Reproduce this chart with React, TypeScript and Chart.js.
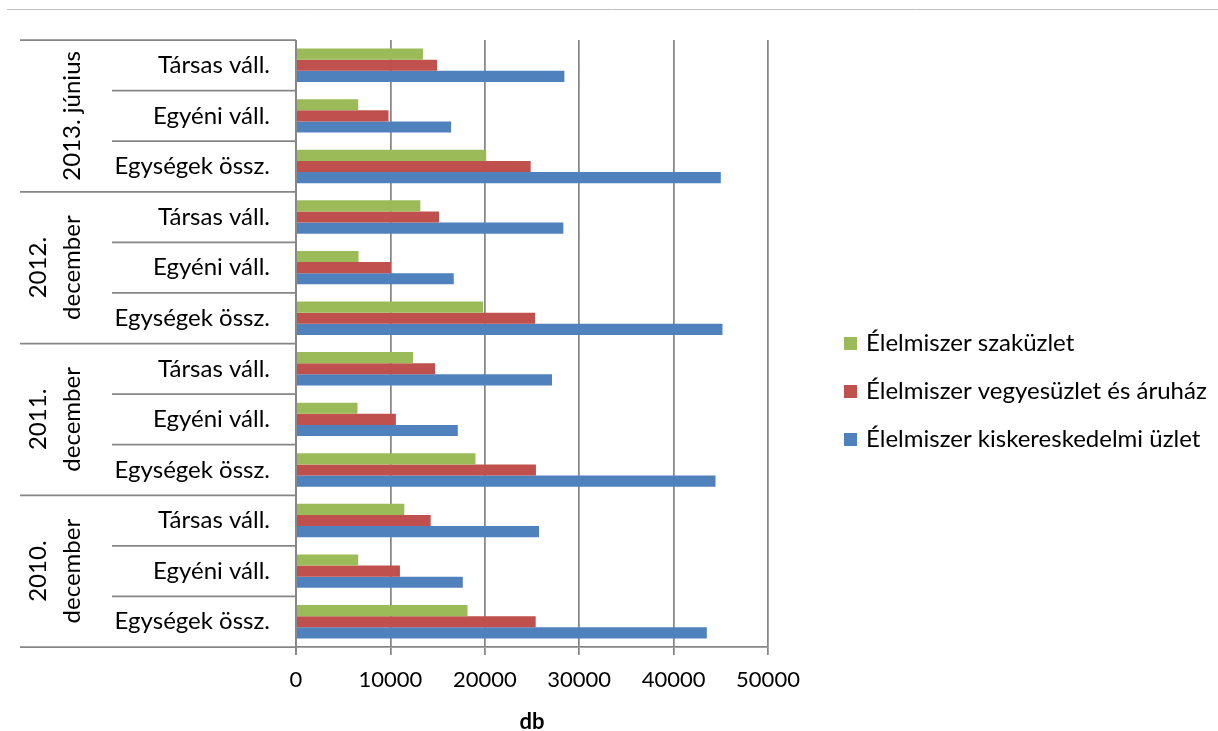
import React, { useEffect, useRef } from 'react';
import { Chart, registerables } from 'chart.js';

Chart.register(...registerables);

// Periods, listed from the top of the chart downwards (wrapped lines of each label)
const periodLabels: string[][] = [
  ['2013. június'],
  ['2012.', 'december'],
  ['2011.', 'december'],
  ['2010.', 'december'],
];
const unitLabels = ['Társas váll.', 'Egyéni váll.', 'Egységek össz.'];

const seriesNames = [
  'Élelmiszer szaküzlet',
  'Élelmiszer vegyesüzlet és áruház',
  'Élelmiszer kiskereskedelmi üzlet',
];
const seriesColors = ['#9BBB59', '#C0504D', '#4F81BD'];

// Values per category, top to bottom: each period -> Társas, Egyéni, Egységek
const szakuzlet = [13450, 6590, 20150, 13170, 6620, 19830, 12390, 6510, 19010, 11470, 6590, 18170];
const vegyesuzlet = [14940, 9800, 24860, 15150, 10050, 25320, 14730, 10580, 25420, 14270, 11010, 25390];
const kiskereskedelmi = [28430, 16430, 45000, 28320, 16710, 45180, 27120, 17140, 44440, 25740, 17670, 43520];

const xTicks = [0, 10000, 20000, 30000, 40000, 50000];
const xTitle = 'db';

const FONT = 'Lato, "Open Sans", sans-serif';
const LINE = '#868686';
const LABEL_SIZE = 24;

const categoryLabels = periodLabels.flatMap(() => unitLabels);

// Draws the two-level category labels, their separators, the vertical axis and the legend
const framePlugin = {
  id: 'frame',
  afterDraw(chart: any) {
    const { ctx, chartArea: ca } = chart;
    const yScale = chart.scales.y;
    const n = categoryLabels.length;
    const per = unitLabels.length;
    const edge = (i: number) =>
      i === 0
        ? ca.top
        : i === n
        ? ca.bottom
        : (yScale.getPixelForValue(i - 1) + yScale.getPixelForValue(i)) / 2;

    ctx.save();

    // thin rule across the top of the page
    ctx.strokeStyle = '#C0C0C0';
    ctx.lineWidth = 1;
    ctx.beginPath();
    ctx.moveTo(7, 9.5);
    ctx.lineTo(chart.width, 9.5);
    ctx.stroke();

    // category separators
    ctx.strokeStyle = LINE;
    ctx.lineWidth = 1.75;
    for (let i = 0; i <= n; i++) {
      const yy = edge(i);
      const isGroup = i % per === 0;
      ctx.beginPath();
      ctx.moveTo(isGroup ? 20 : 112, yy);
      ctx.lineTo(ca.left, yy);
      ctx.stroke();
    }
    // vertical axis line
    ctx.beginPath();
    ctx.moveTo(ca.left, ca.top);
    ctx.lineTo(ca.left, ca.bottom + 8);
    ctx.stroke();

    // inner category labels
    ctx.fillStyle = '#000';
    ctx.font = `${LABEL_SIZE}px ${FONT}`;
    ctx.textAlign = 'right';
    ctx.textBaseline = 'middle';
    categoryLabels.forEach((lab, i) => {
      ctx.fillText(lab, 270, yScale.getPixelForValue(i));
    });

    // period labels, rotated
    ctx.textAlign = 'center';
    periodLabels.forEach((lines, g) => {
      const cy = (edge(g * per) + edge(g * per + per)) / 2;
      lines.forEach((txt, k) => {
        const cx = 72 - (lines.length - 1 - k) * 34;
        ctx.save();
        ctx.translate(cx, cy);
        ctx.rotate(-Math.PI / 2);
        ctx.fillText(txt, 0, 0);
        ctx.restore();
      });
    });

    // legend
    ctx.textAlign = 'left';
    chart.data.datasets.forEach((ds: any, i: number) => {
      const cy = 343 + i * 48;
      ctx.fillStyle = ds.backgroundColor;
      ctx.fillRect(844, cy - 6, 13, 13);
      ctx.fillStyle = '#000';
      ctx.fillText(ds.label, 866, cy);
    });

    ctx.restore();
  },
};

export default function App() {
  const canvasRef = useRef<HTMLCanvasElement | null>(null);

  useEffect(() => {
    const canvas = canvasRef.current;
    if (!canvas) return;
    const series = [szakuzlet, vegyesuzlet, kiskereskedelmi];
    const chart = new Chart(canvas, {
      type: 'bar',
      data: {
        labels: categoryLabels,
        datasets: series.map((values, i) => ({
          label: seriesNames[i],
          data: values,
          backgroundColor: seriesColors[i],
          borderWidth: 0,
          categoryPercentage: 0.66,
          barPercentage: 1,
        })),
      },
      options: {
        indexAxis: 'y',
        responsive: false,
        animation: false,
        layout: { padding: { top: 40, right: 450, left: 0, bottom: 0 } },
        plugins: {
          legend: { display: false },
          tooltip: { enabled: false },
        },
        scales: {
          x: {
            type: 'linear',
            min: xTicks[0],
            max: xTicks[xTicks.length - 1],
            afterBuildTicks(scale: any) {
              scale.ticks = xTicks.map((v) => ({ value: v }));
            },
            afterFit(scale: any) {
              scale.height = 84;
            },
            grid: {
              color: LINE,
              lineWidth: 1.75,
              tickLength: 8,
              drawTicks: true,
            },
            border: { display: true, color: LINE, width: 1.75 },
            ticks: {
              color: '#000',
              font: { family: FONT, size: 22 },
              padding: 12,
              maxRotation: 0,
              callback: (v: any) => String(v),
            },
            title: {
              display: true,
              text: xTitle,
              color: '#000',
              font: { family: FONT, size: 22, weight: 'bold', lineHeight: 0.8 },
              padding: { top: 0, bottom: 0 },
            },
          },
          y: {
            type: 'category',
            offset: true,
            afterFit(scale: any) {
              scale.width = 296;
            },
            grid: { display: false },
            border: { display: false },
            ticks: { display: false },
          },
        },
      },
      plugins: [framePlugin],
    } as any);
    return () => chart.destroy();
  }, []);

  return (
    <div style={{ position: 'absolute', left: 0, top: 0, width: 1218, height: 731, background: '#fff' }}>
      <canvas ref={canvasRef} width={1218} height={731} style={{ width: 1218, height: 731, display: 'block' }} />
    </div>
  );
}
